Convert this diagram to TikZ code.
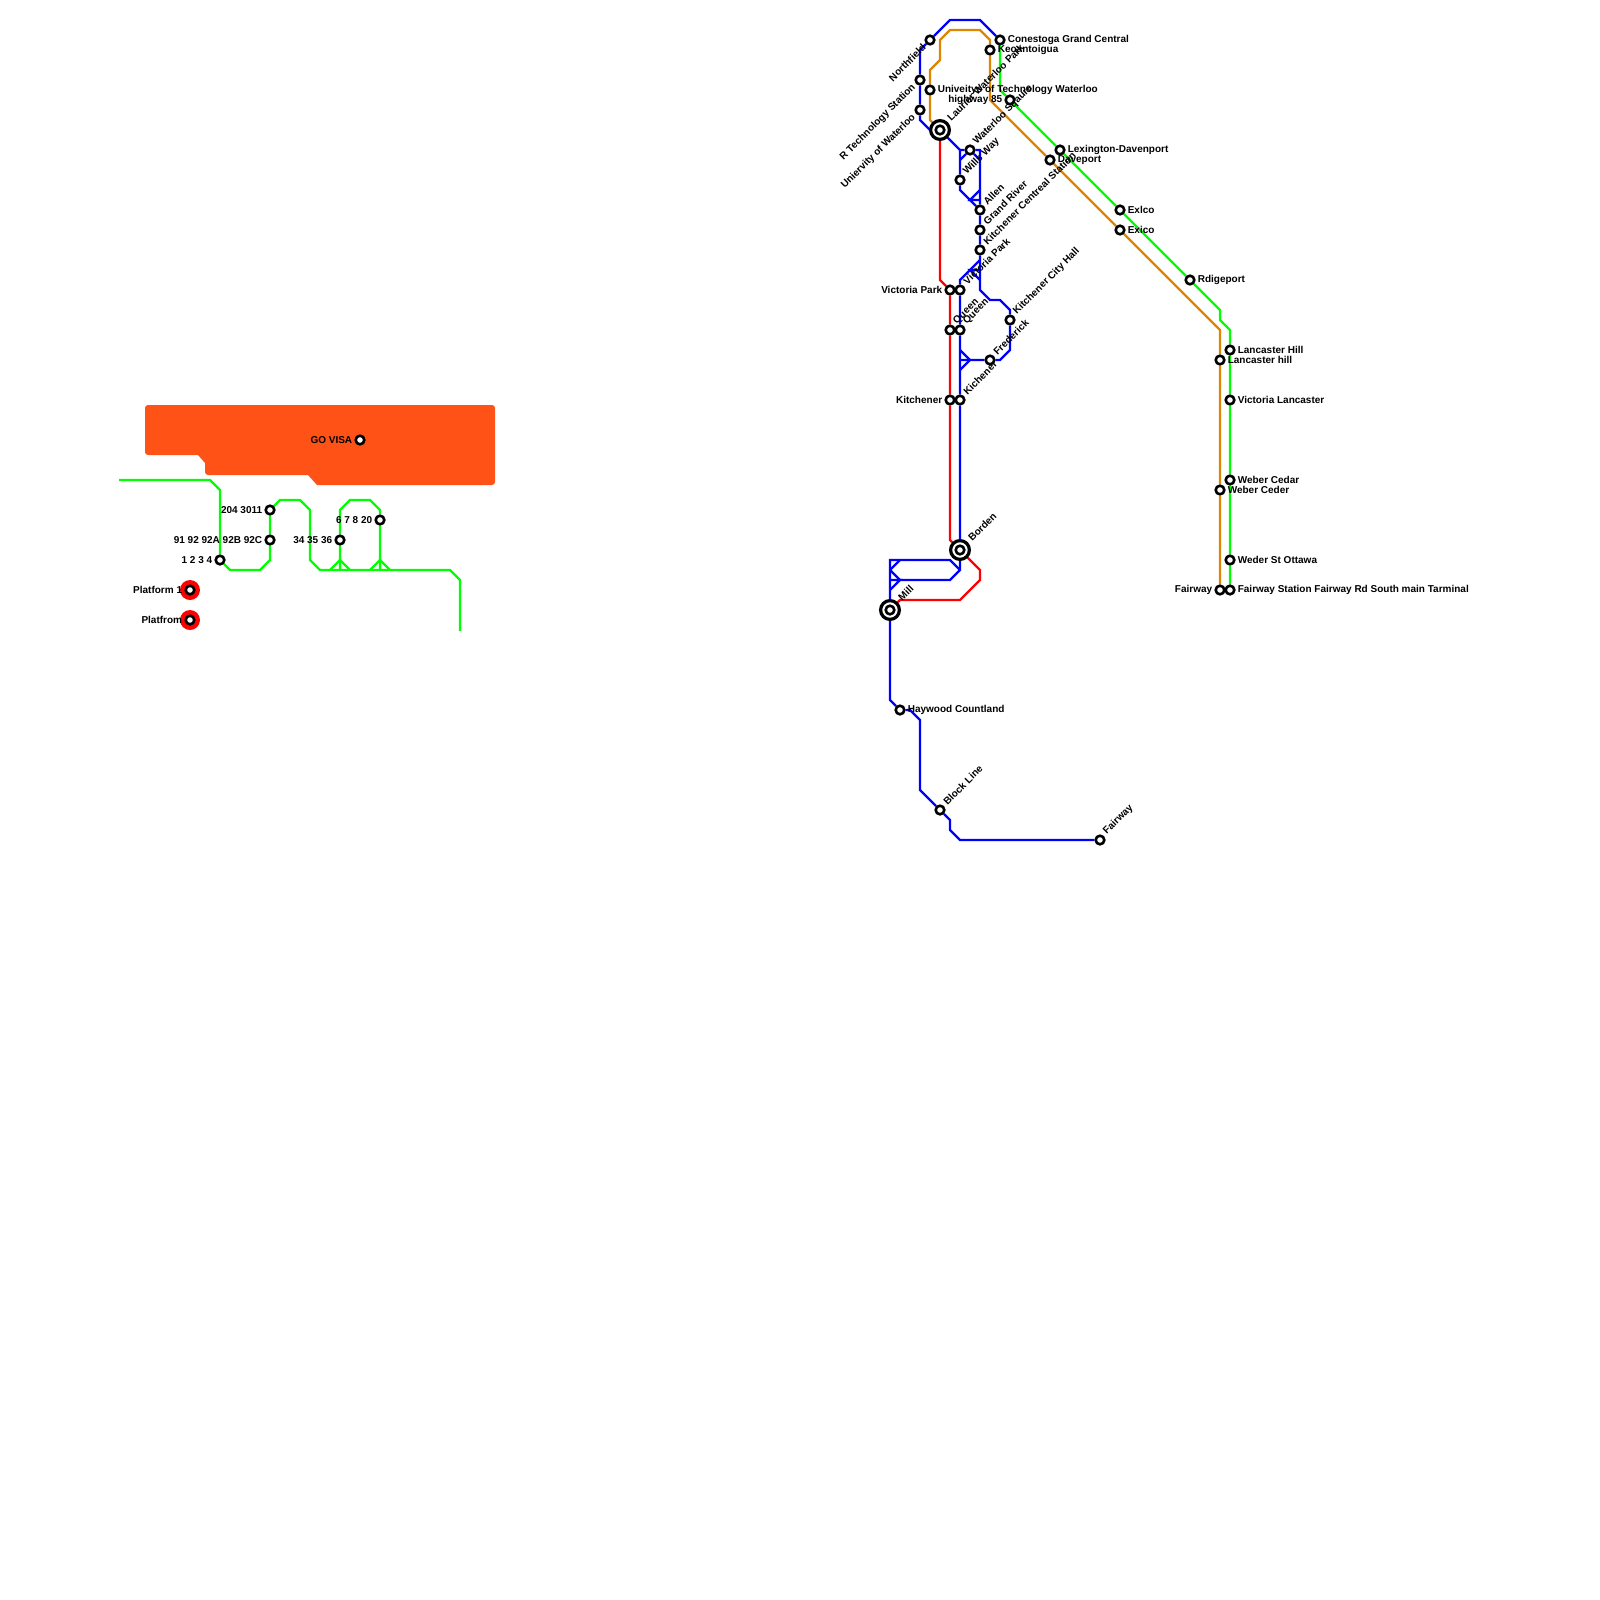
\documentclass[tikz,border=0pt]{standalone}
\usepackage{fontspec}
\setmainfont{Liberation Sans}
\usepackage{xcolor}
\usetikzlibrary{positioning, backgrounds}

\definecolor{busorange}{HTML}{DF8600}
\definecolor{campus}{HTML}{FF5216}

\begin{document}
\begin{tikzpicture}[
    x=1pt, y=-1pt,
    stn/.style={circle, draw=black, fill=white, line width=2.6pt, minimum size=8.6pt, inner sep=0pt},
    hub/.style={circle, draw=black, fill=white, line width=3.2pt, minimum size=18.8pt, inner sep=0pt},
    hubcore/.style={circle, draw=black, fill=white, line width=2.6pt, minimum size=8.6pt, inner sep=0pt},
    plat/.style={circle, fill=red, minimum size=20pt, inner sep=0pt},
    lbl/.style={font=\bfseries\fontsize{10}{11}\selectfont, inner sep=0pt, text=black},
    lblh/.style={lbl, yshift=0.3pt},
    lblne/.style={lbl, anchor=west, rotate=45},
    lblsw/.style={lbl, anchor=east, rotate=45},
    route/.style={draw, line width=2.2pt},
    bluel/.style={route, blue},
    redl/.style={route, red},
    greenl/.style={route, green},
    orangel/.style={route, busorange}
]
    \useasboundingbox (0,0) rectangle (1600,1600);

    % north end
    \node [stn] (northfield) at (930,40) {};
    \node [stn] (rtech) at (920,80) {};
    \node [stn] (univtech) at (930,90) {};
    \node [stn] (uwaterloo) at (920,110) {};
    \node [hub] (laurier) at (940,130) {};
    \node [hubcore] (lauriercore) at (940,130) {};
    \node [stn] (conestoga) at (1000,40) {};
    \node [stn] (keon) at (990,50) {};
    \node [stn] (highway) at (1010,100) {};
    \node [stn] (waterloo) at (970,150) {};
    \node [stn] (wills) at (960,180) {};
    \node [stn] (allen) at (980,210) {};
    \node [stn] (grand) at (980,230) {};
    \node [stn] (centreal) at (980,250) {};

    % downtown
    \node [stn] (vicleft) at (950,290) {};
    \node [stn] (vicright) at (960,290) {};
    \node [stn] (queenleft) at (950,330) {};
    \node [stn] (queenright) at (960,330) {};
    \node [stn] (kitleft) at (950,400) {};
    \node [stn] (kitright) at (960,400) {};
    \node [stn] (frederick) at (990,360) {};
    \node [stn] (cityhall) at (1010,320) {};
    \node [hub] (borden) at (960,550) {};
    \node [hubcore] (bordencore) at (960,550) {};
    \node [hub] (mill) at (890,610) {};
    \node [hubcore] (millcore) at (890,610) {};
    \node [stn] (haywood) at (900,710) {};
    \node [stn] (block) at (940,810) {};
    \node [stn] (fairblue) at (1100,840) {};

    % east side
    \node [stn] (lexington) at (1060,150) {};
    \node [stn] (daveport) at (1050,160) {};
    \node [stn] (exlco) at (1120,210) {};
    \node [stn] (exico) at (1120,230) {};
    \node [stn] (rdigeport) at (1190,280) {};
    \node [stn] (lanchill) at (1230,350) {};
    \node [stn] (lanclow) at (1220,360) {};
    \node [stn] (viclanc) at (1230,400) {};
    \node [stn] (cedar) at (1230,480) {};
    \node [stn] (ceder) at (1220,490) {};
    \node [stn] (ottawa) at (1230,560) {};
    \node [stn] (fairleft) at (1220,590) {};
    \node [stn] (fairright) at (1230,590) {};

    % terminal
    \node [stn] (govisa) at (360,440) {};
    \node [stn] (stopa) at (270,510) {};
    \node [stn] (stopb) at (270,540) {};
    \node [stn] (stopc) at (220,560) {};
    \node [stn] (stopd) at (340,540) {};
    \node [stn] (stope) at (380,520) {};
    \node [plat] (platonering) at (190,590) {};
    \node [stn] (platone) at (190,590) {};
    \node [plat] (plattworing) at (190,620) {};
    \node [stn] (plattwo) at (190,620) {};

    \coordinate (westend) at (119,480);
    \coordinate (southend) at (460,631);
    \coordinate (forkd) at (340,560);
    \coordinate (forke) at (380,560);
    \coordinate (fred) at (970,360);
    \coordinate (vicfork) at (970,270);
    \coordinate (allenfork) at (970,200);
    \coordinate (willstop) at (960,150);
    \coordinate (millfork) at (890,570);
    \coordinate (millfork2) at (900,580);

    % labels
    \node [lblh, right=2pt of conestoga] (conestogalbl) {Conestoga Grand Central};
    \node [lblh, right=2pt of keon] (keonlbl) {Keoantoigua};
    \node [lblh, right=2pt of univtech] (univtechlbl) {Univeitys of Technology Waterloo};
    \node [lblh, left=2pt of highway] (highwaylbl) {highway 85};
    \node [lblh, right=2pt of lexington] (lexingtonlbl) {Lexington-Davenport};
    \node [lblh, right=2pt of daveport] (daveportlbl) {Daveport};
    \node [lblh, right=2pt of exlco] (exlcolbl) {Exlco};
    \node [lblh, right=2pt of exico] (exicolbl) {Exico};
    \node [lblh, right=2pt of rdigeport] (rdigeportlbl) {Rdigeport};
    \node [lblh, right=2pt of lanchill] (lanchilllbl) {Lancaster Hill};
    \node [lblh, right=2pt of lanclow] (lanclowlbl) {Lancaster hill};
    \node [lblh, right=2pt of viclanc] (viclanclbl) {Victoria Lancaster};
    \node [lblh, right=2pt of cedar] (cedarlbl) {Weber Cedar};
    \node [lblh, right=2pt of ceder] (cederlbl) {Weber Ceder};
    \node [lblh, right=2pt of ottawa] (ottawalbl) {Weder St Ottawa};
    \node [lblh, left=2pt of fairleft] (fairleftlbl) {Fairway};
    \node [lblh, right=2pt of fairright] (fairrightlbl) {Fairway Station Fairway Rd South main Tarminal};
    \node [lblh, left=2pt of vicleft] (vicleftlbl) {Victoria Park};
    \node [lblh, left=2pt of kitleft] (kitleftlbl) {Kitchener};
    \node [lblh, right=2pt of haywood] (haywoodlbl) {Haywood Countland};
    \node [lblh, left=2pt of govisa] (govisalbl) {GO VISA};
    \node [lblh, left=2pt of stopa] (stopalbl) {204 3011};
    \node [lblh, left=2pt of stopb] (stopblbl) {91 92 92A 92B 92C};
    \node [lblh, left=2pt of stopc] (stopclbl) {1 2 3 4};
    \node [lblh, left=2pt of stopd] (stopdlbl) {34 35 36};
    \node [lblh, left=2pt of stope] (stopelbl) {6 7 8 20};
    \node [lblh, left=-2.5pt of platonering] (platonelbl) {Platform 1};
    \node [lblh, left=-2.5pt of plattworing] (plattwolbl) {Platfrom};

    \node [below left=2pt and 2pt of northfield, lblsw] (northfieldlbl) {Northfield};
    \node [below left=2pt and 2pt of rtech, lblsw] (rtechlbl) {R Technology Station};
    \node [below left=2pt and 2pt of uwaterloo, lblsw] (uwaterloolbl) {Uniervity of Waterloo};
    \node [above right=3pt and 1pt of laurier, lblne] (laurierlbl) {Laurier Waterloo Park};
    \node [above right=3pt and 1pt of waterloo, lblne] (waterloolbl) {Waterloo Sqaure};
    \node [above right=3pt and 1pt of wills, lblne] (willslbl) {Wills Way};
    \node [above right=3pt and 1pt of allen, lblne] (allenlbl) {Allen};
    \node [above right=3pt and 1pt of grand, lblne] (grandlbl) {Grand River};
    \node [above right=3pt and 1pt of centreal, lblne] (centreallbl) {Kitchener Centreal Station};
    \node [above right=3pt and 1pt of vicright, lblne] (vicrightlbl) {Victoria Park};
    \node [above right=3pt and 1pt of queenleft, lblne] (queenleftlbl) {Queen};
    \node [above right=3pt and 1pt of queenright, lblne] (queenrightlbl) {Queen};
    \node [above right=3pt and 1pt of kitright, lblne] (kitrightlbl) {Kichener};
    \node [above right=3pt and 1pt of frederick, lblne] (fredericklbl) {Frederick};
    \node [above right=3pt and 1pt of cityhall, lblne] (cityhalllbl) {Kitchener City Hall};
    \node [above right=3pt and 2pt of borden, lblne] (bordenlbl) {Borden};
    \node [above right=3pt and 2pt of mill, lblne] (milllbl) {Mill};
    \node [above right=3pt and 1pt of block, lblne] (blocklbl) {Block Line};
    \node [above right=3pt and 1pt of fairblue, lblne] (fairbluelbl) {Fairway};

    \begin{pgfonlayer}{background}
        \fill [campus, rounded corners=3pt] (145,430) -- (145,405) -- (495,405) -- (495,485) [sharp corners] -- (317,485) -- (308,475) [rounded corners=3pt] -- (205,475) [sharp corners] -- (205,463) -- (198,455) [rounded corners=3pt] -- (145,455) -- cycle;

        % terminal loop
        \path [greenl] (westend) -- (210,480) -- (220,490) -- (stopc) -- (230,570) -- (260,570) -- (270,560) -- (stopb) -- (stopa) -- (280,500) -- (300,500) -- (310,510) -- (310,560) -- (320,570) -- (450,570) -- (460,580) -- (southend);
        \path [greenl] (340,570) -- (stopd) -- (340,510) -- (350,500) -- (370,500) -- (380,510) -- (stope) -- (380,570);
        \path [greenl] (330,570) -- (forkd) -- (350,570);
        \path [greenl] (370,570) -- (forke) -- (390,570);

        % university line
        \path [greenl] (conestoga) -- (1000,90) -- (highway) -- (lexington) -- (exlco) -- (rdigeport) -- (1220,310) -- (1220,320) -- (1230,330) -- (lanchill) -- (viclanc) -- (cedar) -- (ottawa) -- (fairright);
        \path [orangel] (laurier) -- (930,120) -- (univtech) -- (930,70) -- (940,60) -- (940,40) -- (950,30) -- (980,30) -- (990,40) -- (keon) -- (990,100) -- (daveport) -- (exico) -- (1220,330) -- (lanclow) -- (ceder) -- (fairleft);

        % lrt
        \path [redl] (laurier) -- (940,280) -- (vicleft) -- (queenleft) -- (kitleft) -- (950,540) -- (borden) -- (980,570) -- (980,580) -- (960,600) -- (900,600) -- (mill);
        \path [bluel] (laurier) -- (930,130) -- (920,120) -- (uwaterloo) -- (rtech) -- (920,50) -- (northfield) -- (950,20) -- (980,20) -- (conestoga);
        \path [bluel] (laurier) -- (willstop) -- (wills) -- (960,190) -- (allenfork) -- (allen);
        \path [bluel] (willstop) -- (waterloo) -- (980,150) -- (allen) -- (grand) -- (centreal) -- (980,290) -- (990,300) -- (1000,300) -- (1010,310) -- (cityhall) -- (1010,350) -- (1000,360) -- (frederick) -- (960,360);
        \path [bluel] (960,160) -- (waterloo) -- (980,160);
        \path [bluel] (980,190) -- (allenfork) -- (980,200);
        \path [bluel] (960,350) -- (fred) -- (960,370);
        \path [bluel] (980,260) -- (960,280) -- (vicright) -- (queenright) -- (kitright) -- (borden) -- (960,570) -- (950,580) -- (millfork2) -- (millfork);
        \path [bluel] (980,270) -- (vicfork) -- (980,280);
        \path [bluel] (960,570) -- (950,560) -- (890,560) -- (mill);
        \path [bluel] (900,560) -- (millfork);
        \path [bluel] (890,580) -- (millfork2) -- (890,590);
        \path [bluel] (mill) -- (890,700) -- (haywood) -- (910,710) -- (920,720) -- (920,790) -- (block) -- (950,820) -- (950,830) -- (960,840) -- (fairblue);
    \end{pgfonlayer}
\end{tikzpicture}
\end{document}
